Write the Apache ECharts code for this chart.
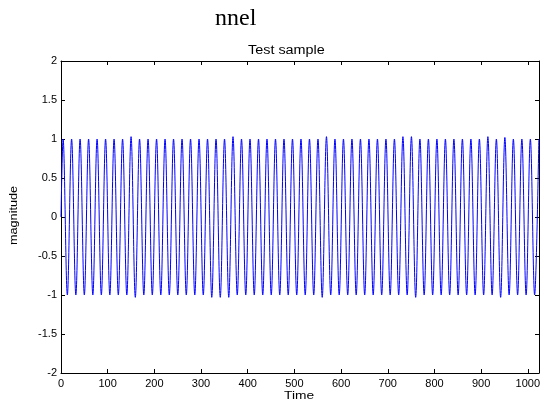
<!DOCTYPE html>
<html><head><meta charset="utf-8">
<script src="https://cdn.jsdelivr.net/npm/echarts@6/dist/echarts.min.js"></script>
<style>html,body{margin:0;padding:0;background:#fff}#c{width:540px;height:404px}</style>
</head><body><div id="c"></div>
<script>
// Sample times (x) of the start point and of each peak / trough
const times = [0,
  4.5, 13.6, 22.7, 31.8, 40.9, 50.0, 59.1, 68.2, 77.3, 86.4,
  95.5, 104.6, 113.7, 122.8, 131.9, 141.0, 150.1, 159.2, 168.3, 177.4,
  186.5, 195.6, 204.7, 213.8, 222.9, 232.0, 241.1, 250.2, 259.3, 268.4,
  277.5, 286.6, 295.7, 304.8, 313.9, 323.0, 332.1, 341.2, 350.3, 359.4,
  368.5, 377.6, 386.7, 395.8, 404.9, 414.0, 423.1, 432.2, 441.3, 450.4,
  459.5, 468.6, 477.7, 486.8, 495.9, 505.0, 514.1, 523.2, 532.3, 541.4,
  550.5, 559.6, 568.7, 577.8, 586.9, 596.0, 605.1, 614.2, 623.3, 632.4,
  641.5, 650.6, 659.7, 668.8, 677.9, 687.0, 696.1, 705.2, 714.3, 723.4,
  732.5, 741.6, 750.7, 759.8, 768.9, 778.0, 787.1, 796.2, 805.3, 814.4,
  823.5, 832.6, 841.7, 850.8, 859.9, 869.0, 878.1, 887.2, 896.3, 905.4,
  914.5, 923.6, 932.7, 941.8, 950.9, 960.0, 969.1, 978.2, 987.3, 996.4,
  1005.5, 1014.6, 1023.7];
// Magnitude at those points
const values = [0,
  1, -1, 1, -1, 1, -1, 1, -1, 1, -1,
  1, -1, 1, -1, 1, -1, 1.03, -1.03, 1, -1,
  1, -1, 1, -1, 1, -1, 1, -1, 1, -1,
  1, -1, 1, -1, 1, -1.03, 1, -1.03, 1, -1.03,
  1.03, -1, 1, -1, 1, -1, 1, -1, 1, -1,
  1, -1, 1, -1, 1, -1, 1, -1, 1, -1,
  1, -1.03, 1.03, -1, 1, -1, 1, -1, 1, -1,
  1, -1, 1, -1, 1, -1, 1, -1, 1, -1,
  1.03, -1, 1.03, -1.03, 1, -1, 1, -1, 1, -1,
  1, -1, 1, -1, 1, -1, 1, -1, 1, -1,
  1.03, -1, 1, -1.03, 1.02, -1, 1, -1, 1, -1,
  1, -1, 1];
const xTickLabels = [0, 100, 200, 300, 400, 500, 600, 700, 800, 900, 1000];
const yTickLabels = [-2, -1.5, -1, -0.5, 0, 0.5, 1, 1.5, 2];

const FONT = '"Liberation Sans", Arial, sans-serif';
const chart = echarts.init(document.getElementById('c'), null, {renderer: 'canvas'});
const lineBlack = {show: true, onZero: false, lineStyle: {color: '#000', width: 1}};
const tickIn = {show: true, inside: true, length: 4, lineStyle: {color: '#000', width: 1}};
const xMin = 0, xMax = 1024, yMin = -2, yMax = 2;

chart.setOption({
  animation: false,
  backgroundColor: '#fff',
  grid: {left: 61, right: 1, top: 61, bottom: 31, containLabel: false, outerBoundsMode: 'none'},
  graphic: [
    {type: 'text', left: 215, top: 7, style: {text: 'nnel', font: '24px "Liberation Serif", serif', fill: '#000'}},
    {type: 'text', x: 248, y: 45, scaleX: 1.2, style: {text: 'Test sample', font: '12px ' + FONT, fill: '#000'}},
    {type: 'text', x: 284, y: 390, scaleX: 1.25, style: {text: 'Time', font: '11px ' + FONT, fill: '#000'}},
    {type: 'text', x: 8, y: 245, rotation: Math.PI / 2, scaleX: 1.15, style: {text: 'magnitude', font: '11px ' + FONT, fill: '#000'}}
  ],
  xAxis: [
    {type: 'value', min: xMin, max: xMax, interval: 100, position: 'bottom',
     axisLine: lineBlack, axisTick: tickIn, splitLine: {show: false},
     axisLabel: {color: '#000', fontSize: 11, fontFamily: FONT, margin: 5,
       formatter: v => xTickLabels.indexOf(v) >= 0 ? String(v) : ''}},
    {type: 'value', min: xMin, max: xMax, interval: 100, position: 'top',
     axisLine: lineBlack, axisTick: tickIn, axisLabel: {show: false}, splitLine: {show: false}}
  ],
  yAxis: [
    {type: 'value', min: yMin, max: yMax, interval: 0.5, position: 'left',
     axisLine: lineBlack, axisTick: tickIn, splitLine: {show: false},
     axisLabel: {color: '#000', fontSize: 11, fontFamily: FONT, margin: 4,
       formatter: v => yTickLabels.indexOf(v) >= 0 ? String(v) : ''}},
    {type: 'value', min: yMin, max: yMax, interval: 0.5, position: 'right',
     axisLine: lineBlack, axisTick: tickIn, axisLabel: {show: false}, splitLine: {show: false}}
  ],
  series: [{
    type: 'line', xAxisIndex: 0, yAxisIndex: 0,
    data: times.map((t, i) => [t, values[i]]),
    showSymbol: false, smooth: 0.36,
    lineStyle: {color: '#0000ff', width: 1},
    clip: true
  }]
});
</script></body></html>
